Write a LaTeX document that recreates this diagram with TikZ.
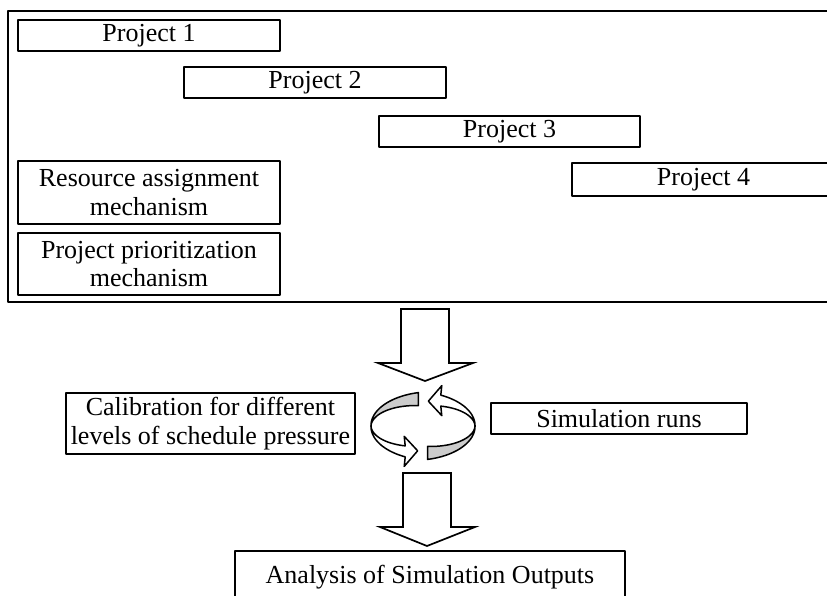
\documentclass[tikz,border=0pt]{standalone}
\usepackage{fontspec}
\setmainfont{Liberation Serif}
\begin{document}
\begin{tikzpicture}[x=1pt,y=-1pt,
  line width=1.7pt, line join=round,
  box/.style={draw, fill=white, rectangle, inner sep=0pt, align=center,
    font=\fontsize{26}{28.5}\selectfont},
  blockarrow/.style={draw, fill=white, line width=1.7pt, line join=miter},
  band/.style={draw, line width=1.5pt, line join=round},
]
\clip (0,0) rectangle (827,596);

% frame around the project portfolio
\draw (845,11) -- (8,11) -- (8,302) -- (845,302);

% projects
\node[box, minimum width=262, minimum height=31] (p1) at (149,35.5) {Project 1};
\node[box, minimum width=262, minimum height=31] (p2) at (315,82.5) {Project 2};
\node[box, minimum width=261, minimum height=31] (p3) at (509.5,131.5) {Project 3};
\node[box, minimum width=263, minimum height=33] (p4) at (703.5,179.5) {Project 4};

% mechanisms
\node[box, minimum width=262, minimum height=63] (ra) at (149,192.5)
  {Resource assignment\\mechanism};
\node[box, minimum width=262, minimum height=62] (pp) at (149,264)
  {Project prioritization\\mechanism};

% first down arrow
\draw[blockarrow] (401,309) -- (449,309) -- (449,363) -- (473,363)
  -- (425,381) -- (378,363) -- (401,363) -- cycle;

% calibration and simulation runs
\node[box, anchor=east, inner xsep=5pt, minimum height=61] (cal) at (356,423.5)
  {Calibration for different\\levels of schedule pressure};
\node[box, minimum width=256, minimum height=31] (sim) at (619,418.5) {Simulation runs};

% cycle symbol: two twisted ribbons, the second one turned half a round
\coordinate (rc) at (423,426);
\foreach \turn in {0,180} {
  \begin{scope}[rotate around={\turn:(rc)}]
    \filldraw[band, fill=gray!40]
      plot[domain=95:180, samples=40]
        ({423+52*cos(\x)}, {426-27*sin(\x)-(0.5+6*(180-\x)/85)})
      -- plot[domain=180:95, samples=40]
        ({423+52*cos(\x)}, {426-27*sin(\x)+(0.5+6*(180-\x)/85)})
      -- cycle;
    \filldraw[band, fill=white]
      plot[domain=180:250, samples=40]
        ({423+52*cos(\x)}, {426-27*sin(\x)-(0.5+5*(\x-180)/70)})
      -- ({423+52*cos(250)-1}, {426-27*sin(250)-15})
      -- ({423+52*cos(263)+1}, {426-27*sin(263)-2})
      -- ({423+52*cos(250)-1}, {426-27*sin(250)+15})
      -- plot[domain=250:180, samples=40]
        ({423+52*cos(\x)}, {426-27*sin(\x)+(0.5+5*(\x-180)/70)})
      -- cycle;
  \end{scope}
}

% second down arrow
\draw[blockarrow] (403,473) -- (451,473) -- (451,527) -- (475,527)
  -- (427,546) -- (380,527) -- (403,527) -- cycle;

% analysis of outputs
\node[box, minimum width=390, minimum height=52] (an) at (430,577)
  {Analysis of Simulation Outputs};
\end{tikzpicture}
\end{document}
